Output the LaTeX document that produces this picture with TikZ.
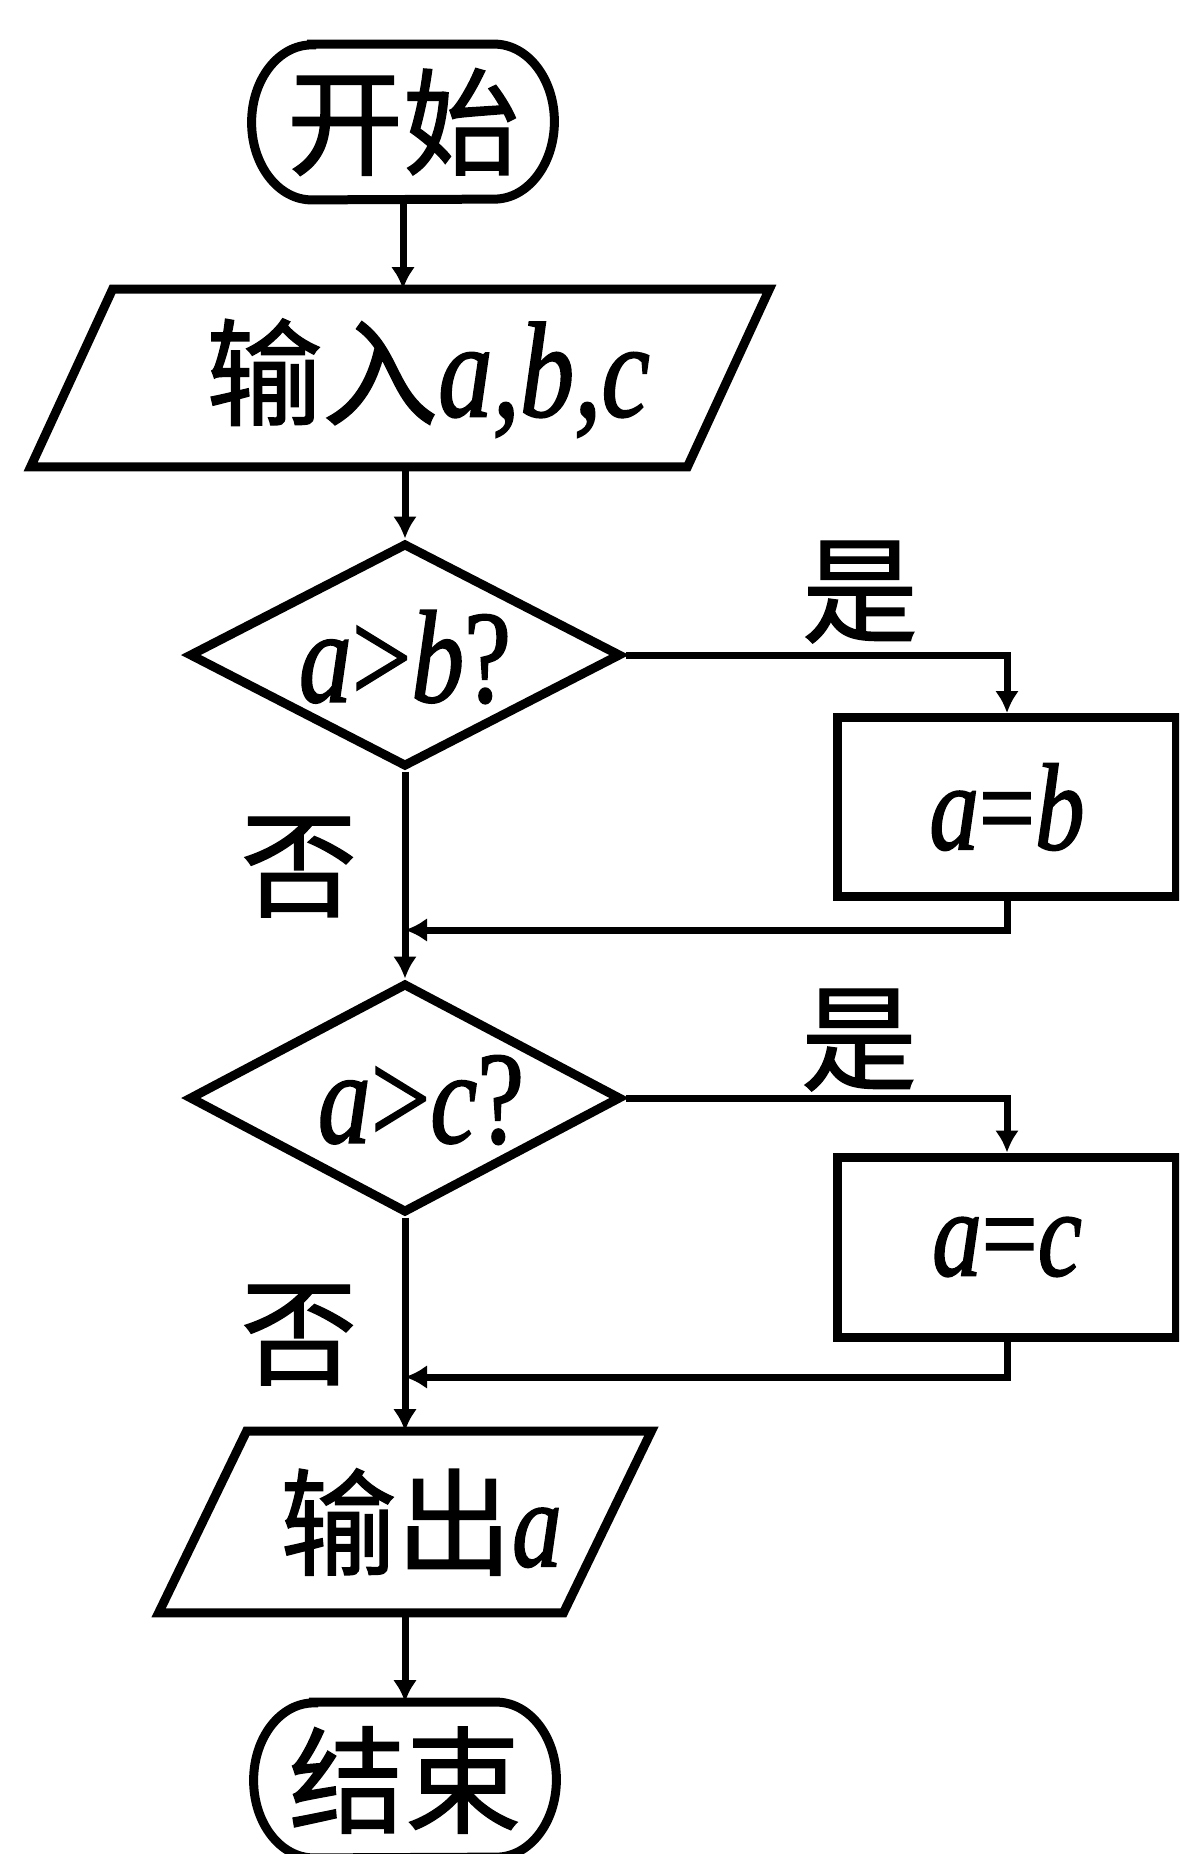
\documentclass[tikz,border=0pt]{standalone}
\usepackage{fontspec}
\setmainfont{Liberation Serif}
\newfontfamily\cjk[FakeBold=1.2]{Noto Sans CJK SC}
\newfontfamily\latf[FakeStretch=0.8,FakeBold=1.3]{Liberation Serif}
\usetikzlibrary{shapes.geometric,arrows.meta,calc}
\newcommand{\zh}[1]{{\cjk\fontsize{58}{60}\selectfont #1}}
\newcommand{\va}[2][66]{{\latf\itshape\fontsize{#1}{#1}\selectfont #2}}
\newcommand{\vu}[2][66]{{\latf\fontsize{#1}{#1}\selectfont #2}}
\begin{document}
\begin{tikzpicture}[x=0.5pt,y=-0.5pt,
  shp/.style={draw,line width=4.5pt,line join=miter},
  con/.style={line width=3.5pt},
  arr/.style={con,-{Latex[length=11pt,width=12pt]}},
  term/.style={minimum width=151pt,minimum height=77.5pt,inner sep=0pt},
  io/.style={inner sep=0pt},
  dec/.style={diamond,draw,line width=4.5pt,inner sep=0pt,minimum width=216pt},
  boxnode/.style={rectangle,draw,line width=4.5pt,minimum width=169.5pt,inner sep=0pt},
  lbl/.style={inner sep=0pt}]
\useasboundingbox (0,0) rectangle (1179,1854);
\clip (0,0) rectangle (1179,1854);

% nodes
\node[term] (start) at (403,122) {\zh{开始}};
\node[io,minimum width=328pt,minimum height=88.5pt] (inp) at (400,378)
  {\hspace*{28pt}\zh{输入}\va[68]{a,b,c}};
\node[dec,minimum height=112pt] (d1) at (405,655) {};
\node[lbl] (t1) at (405,657) {\va{a}\vu{>}\va{b}\vu{?}};
\node[boxnode,minimum height=89.5pt] (b1) at (1007,807) {\va[62]{a}\vu[62]{=}\va[62]{b}};
\coordinate (j1) at (405,930);
\node[dec,minimum height=115pt] (d2) at (405,1098) {};
\node[lbl] (t2) at (421,1100) {\va{a}\vu{>}\va{c}\vu{?}};
\node[boxnode,minimum height=90pt] (b2) at (1007,1247) {\va[62]{a}\vu[62]{=}\va[62]{c}};
\coordinate (j2) at (405,1377);
\node[io,minimum width=202pt,minimum height=90.5pt] (out) at (405,1522)
  {\hspace*{16pt}\zh{输出}\va[62]{a}};
\node[term] (end) at (405,1780) {\zh{结束}};

% outlines of terminals and parallelograms
\draw[shp] ($(start.north west)+(60,0)$) -- ($(start.north east)+(-60,0)$)
  arc[start angle=90,end angle=-90,x radius=30pt,y radius=38.75pt]
  -- ($(start.south west)+(60,0)$)
  arc[start angle=270,end angle=90,x radius=30pt,y radius=38.75pt] -- cycle;
\draw[shp] ($(end.north west)+(60,0)$) -- ($(end.north east)+(-60,0)$)
  arc[start angle=90,end angle=-90,x radius=30pt,y radius=38.75pt]
  -- ($(end.south west)+(60,0)$)
  arc[start angle=270,end angle=90,x radius=30pt,y radius=38.75pt] -- cycle;
\draw[shp] ($(inp.north west)+(41,0)$) -- ($(inp.north east)+(41,0)$)
  -- ($(inp.south east)+(-41,0)$) -- ($(inp.south west)+(-41,0)$) -- cycle;
\draw[shp] ($(out.north west)+(44,0)$) -- ($(out.north east)+(44,0)$)
  -- ($(out.south east)+(-44,0)$) -- ($(out.south west)+(-44,0)$) -- cycle;

% labels
\node[lbl] (y1) at (860,592) {\zh{是}};
\node[lbl] (n1) at (299,867) {\zh{否}};
\node[lbl] (y2) at (859,1040) {\zh{是}};
\node[lbl] (n2) at (299,1335) {\zh{否}};

% connectors
\draw[arr] (start.south) -- (start.south |- inp.north);
\draw[arr] (d1.north |- inp.south) -- (d1.north);
\draw[arr] (d1.east) -| (b1.north);
\draw[arr] (b1.south) |- (j1);
\draw[arr] (d1.south) -- (d2.north);
\draw[arr] (d2.east) -| (b2.north);
\draw[arr] (b2.south) |- (j2);
\draw[arr] (d2.south) -- (out.north);
\draw[arr] (out.south) -- (end.north);
\end{tikzpicture}
\end{document}
